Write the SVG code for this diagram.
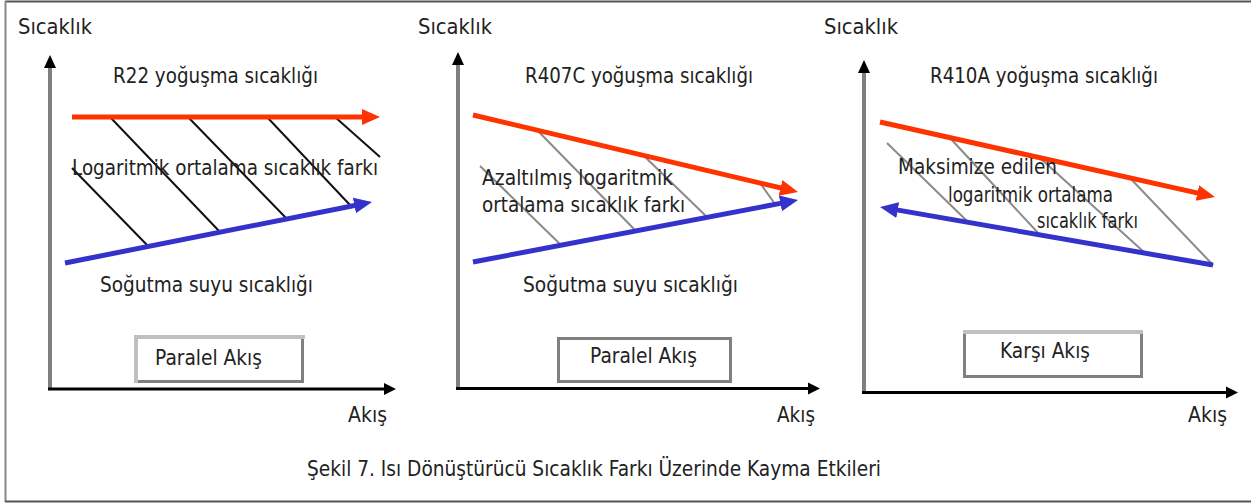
<svg xmlns="http://www.w3.org/2000/svg" width="1251" height="503" viewBox="0 0 1251 503">
<defs>
<style>
text{font-family:"DejaVu Sans","Liberation Sans",sans-serif;font-size:21px;fill:#222;}
.red{stroke:#ff3300;stroke-width:5;fill:none;}
.blue{stroke:#3333cc;stroke-width:5;fill:none;}
.hb{stroke:#111;stroke-width:2;}
.hg{stroke:#8a8a8a;stroke-width:2;}
.yax{stroke:#808080;stroke-width:4;}
.xax{stroke:#000;stroke-width:3;}
.box{fill:#fff;stroke:#808080;stroke-width:3;}
.lt{stroke:#c0c0c0;stroke-width:4;}
</style>
<marker id="ar" markerUnits="userSpaceOnUse" markerWidth="20" markerHeight="18" refX="4" refY="8" orient="auto">
<path d="M0,0 L18,8 L0,16 z" fill="#ff3300"/>
</marker>
<marker id="ab" markerUnits="userSpaceOnUse" markerWidth="20" markerHeight="18" refX="4" refY="8" orient="auto">
<path d="M0,0 L18,8 L0,16 z" fill="#3333cc"/>
</marker>
</defs>
<rect x="0" y="0" width="1251" height="503" fill="#fff"/>
<g id="frame">
<line x1="5" y1="1.5" x2="1251" y2="1.5" stroke="#555" stroke-width="2"/>
<line x1="5.5" y1="1" x2="5.5" y2="502" stroke="#888" stroke-width="2"/>
<line x1="5" y1="501.5" x2="1251" y2="501.5" stroke="#555" stroke-width="2"/>
</g>

<g id="panel1">
<g id="p1-axes">
<line class="yax" x1="50" y1="62" x2="50" y2="390"/>
<path d="M50,55 L44,68 L56,68 z" fill="#000"/>
<line class="xax" x1="48" y1="389" x2="388" y2="389"/>
<path d="M396,389 L384,383 L384,395 z" fill="#000"/>
</g>
<g id="p1-connectors">
<line class="hb" x1="72" y1="168" x2="148" y2="246"/>
<line class="hb" x1="110" y1="117" x2="220" y2="232"/>
<line class="hb" x1="188" y1="117" x2="287" y2="219"/>
<line class="hb" x1="267" y1="117" x2="350" y2="205"/>
<line class="hb" x1="335" y1="117" x2="380" y2="157"/>
<line class="red" x1="72" y1="117" x2="366" y2="117" marker-end="url(#ar)"/>
<line class="blue" x1="65" y1="263" x2="358.3" y2="204.7" marker-end="url(#ab)"/>
</g>
<text x="18" y="34" textLength="74" lengthAdjust="spacingAndGlyphs">Sıcaklık</text>
<text x="113" y="83" textLength="205" lengthAdjust="spacingAndGlyphs">R22 yoğuşma sıcaklığı</text>
<text x="72" y="175" textLength="306" lengthAdjust="spacingAndGlyphs">Logaritmik ortalama sıcaklık farkı</text>
<text x="100" y="292" textLength="213" lengthAdjust="spacingAndGlyphs">Soğutma suyu sıcaklığı</text>
<g id="p1-box">
<rect class="box" x="136.5" y="336.5" width="166" height="45"/>
<line class="lt" x1="134" y1="337" x2="305" y2="337"/>
<line class="lt" x1="136" y1="335" x2="136" y2="383"/>
<text x="155" y="365" textLength="107" lengthAdjust="spacingAndGlyphs">Paralel Akış</text>
</g>
<text x="348" y="422" textLength="39" lengthAdjust="spacingAndGlyphs">Akış</text>
</g>

<g id="panel2">
<g id="p2-axes">
<line class="yax" x1="458" y1="59" x2="458" y2="389"/>
<path d="M458,52 L452,65 L464,65 z" fill="#000"/>
<line class="xax" x1="456" y1="388.5" x2="812" y2="388.5"/>
<path d="M820,388.5 L808,382.5 L808,394.5 z" fill="#000"/>
</g>
<g id="p2-connectors">
<line class="hg" x1="480" y1="166" x2="561" y2="245"/>
<line class="hg" x1="537" y1="130" x2="635" y2="230"/>
<line class="hg" x1="643" y1="155" x2="707" y2="217"/>
<line class="hg" x1="760" y1="183" x2="775" y2="204"/>
<line class="red" x1="473" y1="115" x2="784.4" y2="188.8" marker-end="url(#ar)"/>
<line class="blue" x1="473" y1="262" x2="784.3" y2="202.6" marker-end="url(#ab)"/>
</g>
<text x="418" y="34" textLength="74" lengthAdjust="spacingAndGlyphs">Sıcaklık</text>
<text x="525" y="83" textLength="228" lengthAdjust="spacingAndGlyphs">R407C yoğuşma sıcaklığı</text>
<text x="482" y="185" textLength="191" lengthAdjust="spacingAndGlyphs">Azaltılmış logaritmik</text>
<text x="482" y="212" textLength="203" lengthAdjust="spacingAndGlyphs">ortalama sıcaklık farkı</text>
<text x="523" y="292" textLength="215" lengthAdjust="spacingAndGlyphs">Soğutma suyu sıcaklığı</text>
<g id="p2-box">
<rect class="box" x="558.5" y="338.5" width="172" height="43"/>
<text x="590" y="363" textLength="107" lengthAdjust="spacingAndGlyphs">Paralel Akış</text>
</g>
<text x="777" y="422" textLength="38" lengthAdjust="spacingAndGlyphs">Akış</text>
</g>

<g id="panel3">
<g id="p3-axes">
<line class="yax" x1="864" y1="66" x2="864" y2="394"/>
<path d="M864,60 L858,73 L870,73 z" fill="#000"/>
<line class="xax" x1="862" y1="392.5" x2="1230" y2="392.5"/>
<path d="M1238,392.5 L1226,386.5 L1226,398.5 z" fill="#000"/>
</g>
<g id="p3-connectors">
<line class="hg" x1="887" y1="143" x2="968" y2="222"/>
<line class="hg" x1="950" y1="138" x2="1040" y2="235"/>
<line class="hg" x1="1040" y1="158" x2="1145" y2="253"/>
<line class="hg" x1="1130" y1="178" x2="1213" y2="265"/>
<line class="red" x1="880" y1="122" x2="1201.3" y2="193.9" marker-end="url(#ar)"/>
<line class="blue" x1="1213" y1="265" x2="893.8" y2="209.4" marker-end="url(#ab)"/>
</g>
<text x="824" y="34" textLength="74" lengthAdjust="spacingAndGlyphs">Sıcaklık</text>
<text x="930" y="83" textLength="228" lengthAdjust="spacingAndGlyphs">R410A yoğuşma sıcaklığı</text>
<text x="898" y="174" textLength="159" lengthAdjust="spacingAndGlyphs">Maksimize edilen</text>
<text x="948" y="202" textLength="165" lengthAdjust="spacingAndGlyphs">logaritmik ortalama</text>
<text x="1037" y="228" textLength="101" lengthAdjust="spacingAndGlyphs">sıcaklık farkı</text>
<g id="p3-box">
<rect class="box" x="964.5" y="331.5" width="177" height="45"/>
<line class="lt" x1="963" y1="332" x2="1143" y2="332"/>
<text x="1000" y="358" textLength="90" lengthAdjust="spacingAndGlyphs">Karşı Akış</text>
</g>
<text x="1188" y="422" textLength="39" lengthAdjust="spacingAndGlyphs">Akış</text>
</g>

<g id="caption">
<text x="307" y="476" textLength="574" lengthAdjust="spacingAndGlyphs">Şekil 7. Isı Dönüştürücü Sıcaklık Farkı Üzerinde Kayma Etkileri</text>
</g>
</svg>
